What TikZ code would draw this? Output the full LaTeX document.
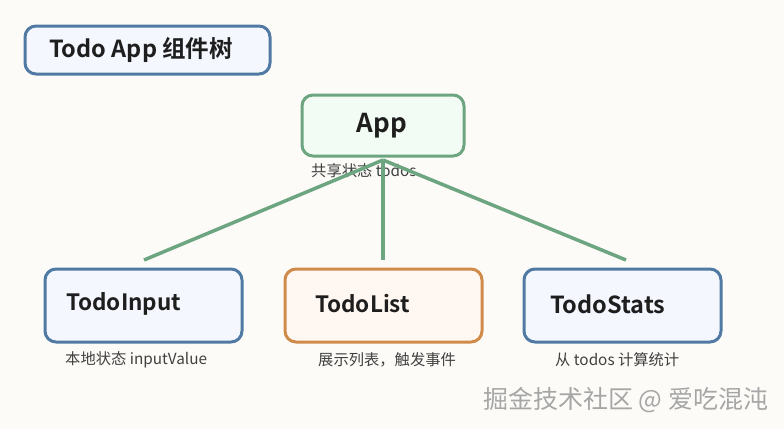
\documentclass[tikz,border=0pt]{standalone}
\usepackage{fontspec}
\setmainfont{Noto Sans CJK SC}[BoldFont={Noto Sans CJK SC Bold}]
\begin{document}
\begin{tikzpicture}[x=1pt,y=-1pt,
  box/.style={draw, line width=3pt, rounded corners=11pt},
  bluebox/.style={box, draw=boxblue, fill=fillblue},
  labeltext/.style={font=\bfseries\fontsize{22.5}{24}\selectfont, text=ink, anchor=west, inner sep=0},
  note/.style={font=\fontsize{15.3}{17}\selectfont, text=ink!85, anchor=west, inner sep=0},
  link/.style={draw=linkgreen, line width=3.5pt}]
\definecolor{bg}{HTML}{FCFBF8}
\definecolor{boxblue}{HTML}{5079A3}
\definecolor{fillblue}{HTML}{F4F8FE}
\definecolor{boxgreen}{HTML}{6CA57F}
\definecolor{fillgreen}{HTML}{F2FBF4}
\definecolor{linkgreen}{HTML}{6CA57F}
\definecolor{boxorange}{HTML}{D08B4A}
\definecolor{fillorange}{HTML}{FFF7F1}
\definecolor{ink}{HTML}{1E1E1E}
\fill[bg] (0,0) rectangle (784,429);
\useasboundingbox (0,0) rectangle (784,429);
% title
\node[bluebox, minimum width=245pt, minimum height=48pt] (title) at (147.5,50) {};
\node[labeltext, font=\bfseries\fontsize{23.5}{25}\selectfont] (titletext) at (49,50) {Todo App 组件树};
% app
\node[box, draw=boxgreen, fill=fillgreen, minimum width=162pt, minimum height=61pt] (app) at (383,125.5) {};
\node[font=\bfseries\fontsize{26}{28}\selectfont, text=ink, inner sep=0] (apptext) at (382,126) {App};
\node[note] (appnote) at (311,171) {共享状态 todos};
% connectors
\coordinate (hub) at (383,160);
\coordinate (inTop) at (144,260);
\coordinate (listTop) at (383,260);
\coordinate (statsTop) at (626,260);
\draw[link] (hub) -- (inTop);
\draw[link] (hub) -- (listTop);
\draw[link] (hub) -- (statsTop);
% children
\node[bluebox, minimum width=197pt, minimum height=73pt] (input) at (143.5,305.5) {};
\node[labeltext] (inputtext) at (66,304) {TodoInput};
\node[box, draw=boxorange, fill=fillorange, minimum width=197pt, minimum height=73pt] (list) at (383.5,305.5) {};
\node[labeltext] (listtext) at (315,304) {TodoList};
\node[bluebox, minimum width=197pt, minimum height=73pt] (stats) at (622.5,305.5) {};
\node[labeltext, font=\bfseries\fontsize{23.5}{25}\selectfont] (statstext) at (550,304) {TodoStats};
\node[note] (inputnote) at (65,360) {本地状态 inputValue};
\node[note] (listnote) at (318,360) {展示列表，触发事件};
\node[note] (statsnote) at (555,360) {从 todos 计算统计};
% watermark
\node[font=\fontsize{25}{27}\selectfont, text=black!35, anchor=west, inner sep=0] (mark) at (483,400) {掘金技术社区 @ 爱吃混沌};
\end{tikzpicture}
\end{document}
